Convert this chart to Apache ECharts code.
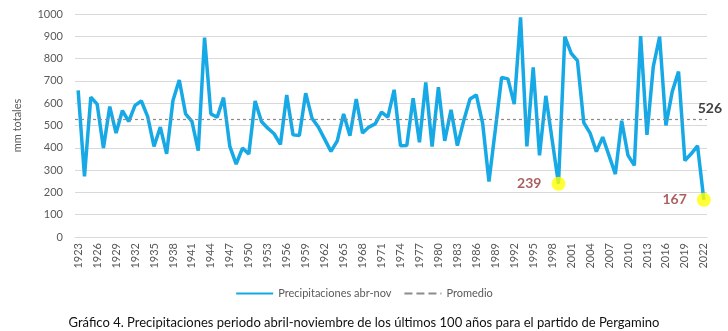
<!DOCTYPE html>
<html>
<head>
<meta charset="utf-8">
<script src="https://cdn.jsdelivr.net/npm/echarts@6/dist/echarts.min.js"></script>
<style>html,body{margin:0;padding:0;background:#fff}#c{width:728px;height:331px}</style>
</head>
<body>
<div id="c"></div>
<script>
const years = ['1923','1924','1925','1926','1927','1928','1929','1930','1931','1932',
'1933','1934','1935','1936','1937','1938','1939','1940','1941','1942',
'1943','1944','1945','1946','1947','1948','1949','1950','1951','1952',
'1953','1954','1955','1956','1957','1958','1959','1960','1961','1962',
'1963','1964','1965','1966','1967','1968','1969','1970','1971','1972',
'1973','1974','1975','1976','1977','1978','1979','1980','1981','1982',
'1983','1984','1985','1986','1987','1988','1989','1990','1991','1992',
'1993','1994','1995','1996','1997','1998','1999','2000','2001','2002',
'2003','2004','2005','2006','2007','2008','2009','2010','2011','2012',
'2013','2014','2015','2016','2017','2018','2019','2020','2021','2022'];
const precip = [658,272,627,596,399,585,466,567,518,590,
610,540,406,493,373,612,704,552,518,387,
894,552,537,625,406,327,399,372,610,518,
488,463,415,637,458,455,645,533,493,439,
384,431,552,454,619,466,493,507,560,538,
660,409,410,622,425,693,406,672,431,570,
410,521,619,637,510,249,480,715,709,596,
985,406,761,366,633,435,239,898,824,791,
513,466,383,448,365,282,521,366,321,901,
458,764,898,500,652,742,343,373,409,167];
const promedio = 526;
const highlightYears = ['1999','2022'];
const highlightValues = [239,167];
const yTicks = [0,100,200,300,400,500,600,700,800,900,1000];
const seriesName = 'Precipitaciones abr-nov';
const avgName = 'Promedio';
const yName = 'mm totales';
const caption = 'Gráfico 4. Precipitaciones periodo abril-noviembre de los últimos 100 años para el partido de Pergamino';

const chart = echarts.init(document.getElementById('c'));
const font = 'Lato, "Open Sans", sans-serif';
chart.setOption({
  animation: false,
  textStyle: {fontFamily: font},
  title: {
    text: caption, left: 'center', top: 311,
    textStyle: {fontFamily: font, fontSize: 13, fontWeight: 'normal', color: '#111'}
  },
  legend: {
    data: [seriesName, avgName], top: 283, left: 'center',
    itemWidth: 37, itemHeight: 10, itemGap: 12,
    itemStyle: {opacity: 0},
    textStyle: {fontFamily: font, fontSize: 11, color: '#595959'}
  },
  grid: {left: 75, right: 21, top: 14, height: 223, containLabel: false},
  xAxis: {
    type: 'category', data: years, boundaryGap: true,
    axisLine: {lineStyle: {color: '#d9d9d9'}},
    axisTick: {show: false},
    axisLabel: {rotate: 90, interval: 2, color: '#595959', fontSize: 11, margin: 6}
  },
  yAxis: {
    type: 'value', min: yTicks[0], max: yTicks[yTicks.length-1], interval: 100,
    name: yName, nameLocation: 'middle', nameRotate: 90, nameGap: 52,
    nameTextStyle: {color: '#595959', fontSize: 11},
    axisLine: {show: false}, axisTick: {show: false},
    axisLabel: {color: '#595959', fontSize: 11, margin: 12, formatter: v => String(v)},
    splitLine: {lineStyle: {color: '#d9d9d9', width: 1}}
  },
  series: [
    {
      name: seriesName, type: 'line', data: precip, symbol: 'none',
      lineStyle: {color: '#17A9E6', width: 3.5}, itemStyle: {color: '#17A9E6'}, z: 3
    },
    {
      name: avgName, type: 'line', data: [], symbol: 'none',
      lineStyle: {color: '#8c8c8c', width: 1, type: 'dashed'}, itemStyle: {color: '#8c8c8c'},
      markLine: {
        silent: true, symbol: 'none',
        lineStyle: {color: '#8c8c8c', width: 1.2, type: [3, 3]},
        label: {show: true, position: 'insideEndTop', distance: [-15, 4],
          formatter: String(promedio), color: '#404040', fontWeight: 'bold', fontSize: 14, fontFamily: font},
        data: [{yAxis: promedio}]
      }, z: 2
    },
    {
      name: 'destacados', type: 'scatter',
      data: highlightYears.map((y, i) => [y, highlightValues[i]]),
      symbolSize: 14, itemStyle: {color: '#FFFF00'}, z: 5,
      label: {show: true, position: 'left', distance: 10, formatter: p => p.value[1],
        color: '#953735', fontWeight: 'bold', fontSize: 14, fontFamily: font}
    }
  ]
});
</script>
</body>
</html>
